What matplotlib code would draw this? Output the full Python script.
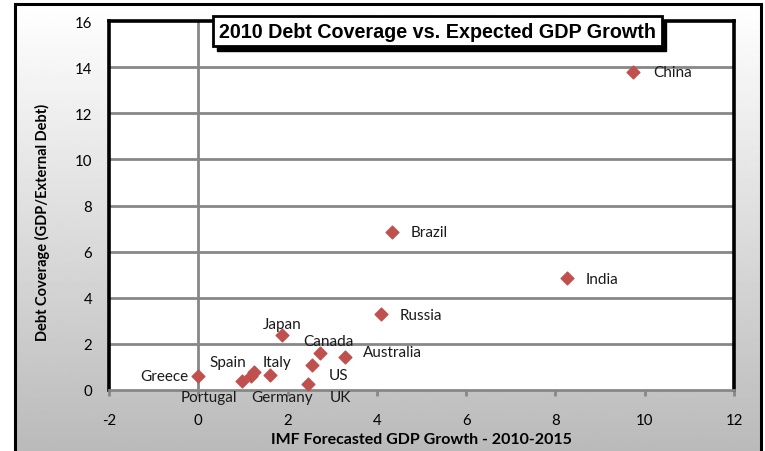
import matplotlib.pyplot as plt
import matplotlib.patches as mpatches
import numpy as np

plt.rcParams['font.family'] = ['Lato', 'DejaVu Sans']
plt.rcParams['axes.unicode_minus'] = False

# IMF forecasted GDP growth (x) and debt coverage (y) per country
countries = ['China', 'Brazil', 'India', 'Russia', 'Japan', 'Canada', 'Australia',
             'US', 'UK', 'Greece', 'Portugal', 'Spain', 'Italy', 'Germany']
gdp_growth = [9.74, 4.33, 8.25, 4.09, 1.87, 2.73, 3.29,
              2.55, 2.46, 0.00, 0.97, 1.25, 1.18, 1.60]
debt_cover = [13.81, 6.87, 4.86, 3.30, 2.39, 1.61, 1.43,
              1.09, 0.26, 0.61, 0.40, 0.77, 0.62, 0.65]

# label placement (offset in pixels from the point, horizontal alignment)
label_pos = {
    'China':     (20, 0, 'left'),
    'Brazil':    (19, 0, 'left'),
    'India':     (19, -1, 'left'),
    'Russia':    (19, -1, 'left'),
    'Japan':     (0, 11, 'center'),
    'Canada':    (8, 12, 'center'),
    'Australia': (18, 5, 'left'),
    'US':        (26, -10, 'center'),
    'UK':        (32, -13, 'center'),
    'Greece':    (-10, 0, 'right'),
    'Portugal':  (-33, -16, 'center'),
    'Spain':     (-26, 10, 'center'),
    'Italy':     (26, 14, 'center'),
    'Germany':   (12, -22, 'center'),
}

W, H = 765, 452
fig = plt.figure(figsize=(W / 100, H / 100), dpi=100)
fig.patch.set_facecolor('white')

# gradient panel behind everything
bg = fig.add_axes([0, 0, 1, 1], zorder=-10)
grad = np.linspace(1.0, 0.73, 256).reshape(-1, 1)
bg.imshow(grad, cmap='gray', vmin=0, vmax=1, aspect='auto',
          extent=[15 / W, 761 / W, 0, 1 - 5 / H], transform=bg.transAxes)
bg.set_xlim(0, 1)
bg.set_ylim(0, 1)
bg.axis('off')
bg.add_patch(mpatches.Rectangle((15 / W, -0.05), (761 - 15) / W, 1 - 5 / H + 0.05,
                                transform=bg.transAxes, fill=False,
                                edgecolor='black', linewidth=2.2))

ax = fig.add_axes([109 / W, (H - 391) / H, (734 - 109) / W, (391 - 22) / H])
ax.set_facecolor('white')
ax.set_xlim(-2, 12)
ax.set_ylim(0, 16)
ax.set_xticks(np.arange(-2, 13, 2))
ax.set_yticks(np.arange(0, 17, 2))

for y in range(2, 16, 2):
    ax.axhline(y, color='#878787', linewidth=2, zorder=1)
ax.axvline(0, color='#878787', linewidth=2, zorder=1)

for side in ['left', 'top', 'right']:
    ax.spines[side].set_color('black')
    ax.spines[side].set_linewidth(2.6)
ax.spines['bottom'].set_color('#878787')
ax.spines['bottom'].set_linewidth(2)

ax.tick_params(axis='x', direction='out', length=4.5, width=2, color='#878787',
               labelsize=10.8, pad=12)
ax.tick_params(axis='y', length=0, labelsize=10.8, pad=12)

ax.scatter(gdp_growth, debt_cover, marker='D', s=42, color='#C0504D',
           zorder=3, clip_on=False)

for name, x, y in zip(countries, gdp_growth, debt_cover):
    dx, dy, ha = label_pos[name]
    ax.annotate(name, (x, y), xytext=(dx, dy), textcoords='offset pixels',
                ha=ha, va='center', fontsize=11, color='#1a1a1a',
                annotation_clip=False)

ax.set_xlabel('IMF Forecasted GDP Growth - 2010-2015', fontsize=11.5,
              fontweight='bold', labelpad=0)
ax.set_ylabel('Debt Coverage (GDP/External Debt)', fontsize=10.5,
              fontweight='bold')
ax.yaxis.set_label_coords(-0.094, 0.458)
ax.xaxis.set_label_coords(0.5, -0.115)

# boxed title with drop shadow
bx0, by0, bx1, by1 = 213, 17, 662, 47
fig.patches.append(mpatches.Rectangle((bx0 + 4, H - by1 - 5), bx1 - bx0, by1 - by0,
                                      transform=None, facecolor='black',
                                      edgecolor='black', zorder=5))
fig.patches.append(mpatches.Rectangle((bx0, H - by1), bx1 - bx0, by1 - by0,
                                      transform=None, facecolor='white',
                                      edgecolor='black', linewidth=2, zorder=6))
fig.text((bx0 + bx1) / 2 / W, 1 - (by0 + by1) / 2 / H,
         '2010 Debt Coverage vs. Expected GDP Growth',
         family='Liberation Sans', fontsize=14.2, fontweight='bold',
         ha='center', va='center', zorder=7)

fig.savefig('out.png', dpi=100)
